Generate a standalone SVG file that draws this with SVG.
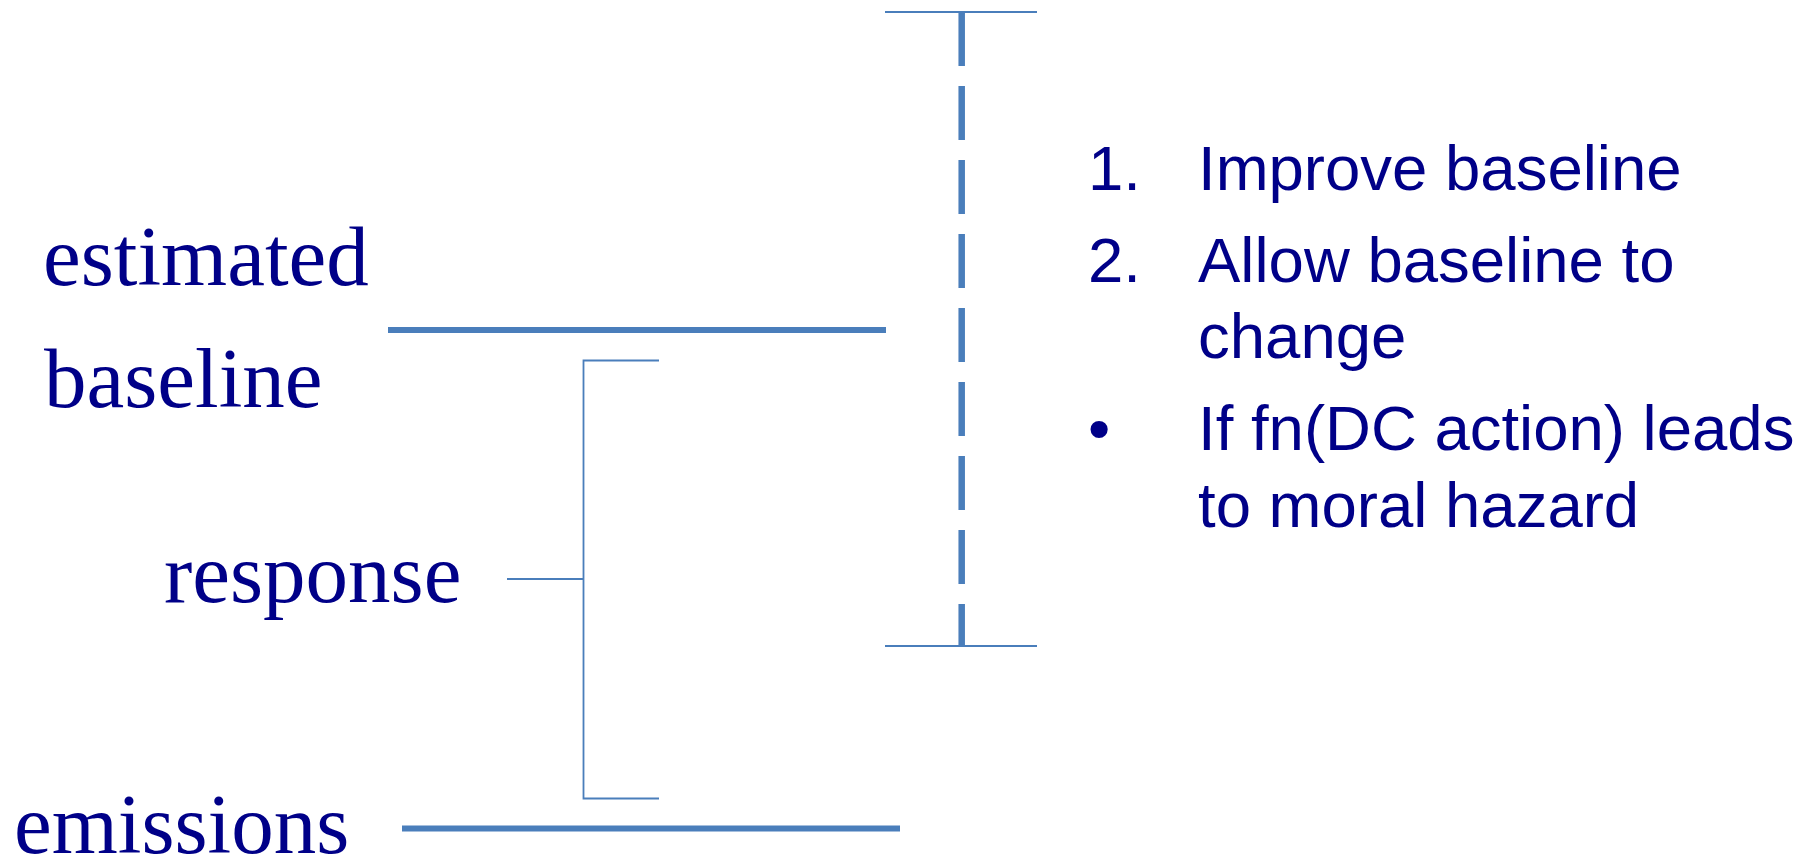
<svg xmlns="http://www.w3.org/2000/svg" width="1815" height="863" viewBox="0 0 1815 863">
<style>
.lbl{font-family:"Liberation Serif","Times New Roman",serif;font-size:85px;fill:#000088}
.txt{font-family:"Liberation Sans",Arial,sans-serif;font-size:63.5px;fill:#000088}
.thick{stroke:#4a7ebb;stroke-width:6;fill:none}
.thin{stroke:#4a7ebb;stroke-width:1.8;fill:none}
.dash{stroke:#4a7ebb;stroke-width:6.5;fill:none;stroke-dasharray:54 20}
</style>
<rect width="1815" height="863" fill="#ffffff"/>
<g id="label-estimated"><text class="lbl" x="43" y="285">estimated</text></g>
<g id="label-baseline"><text class="lbl" x="44" y="407">baseline</text></g>
<g id="label-response"><text class="lbl" x="164" y="602">response</text></g>
<g id="label-emissions"><text class="lbl" x="14" y="853">emissions</text></g>
<g id="text-list">
<text class="txt" x="1088" y="190">1.</text>
<text class="txt" x="1198" y="190">Improve baseline</text>
<text class="txt" x="1088" y="282">2.</text>
<text class="txt" x="1198" y="282">Allow baseline to</text>
<text class="txt" x="1198" y="358">change</text>
<text class="txt" x="1088" y="450">•</text>
<text class="txt" x="1198" y="450">If fn(DC action) leads</text>
<text class="txt" x="1198" y="527">to moral hazard</text>
</g>
<g id="connectors">
<line class="thick" x1="388" y1="330" x2="886" y2="330"/>
<line class="thick" x1="402" y1="828.5" x2="900" y2="828.5"/>
<line class="thin" x1="885" y1="12" x2="1037" y2="12"/>
<line class="thin" x1="885" y1="646" x2="1037" y2="646"/>
<line class="dash" x1="961.7" y1="12" x2="961.7" y2="646"/>
<polyline class="thin" points="659,360.5 583.5,360.5 583.5,798.5 659,798.5"/>
<line class="thin" x1="507" y1="579" x2="583.5" y2="579"/>
</g>
</svg>
